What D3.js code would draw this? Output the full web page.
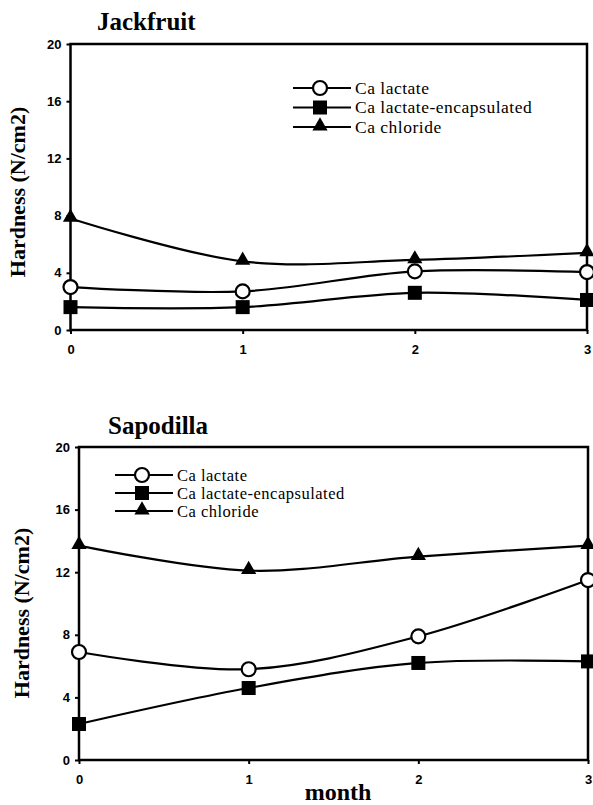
<!DOCTYPE html>
<html>
<head>
<meta charset="utf-8">
<script src="https://cdn.jsdelivr.net/npm/d3@7"></script>
<style>
  body { margin: 0; background: #fff; }
  svg { display: block; }
  .serif { font-family: "Liberation Serif", "Times New Roman", Times, "DejaVu Serif", serif; }
  .sans { font-family: "Liberation Sans", Arial, "DejaVu Sans", sans-serif; }
</style>
</head>
<body>
<svg id="chart" width="593" height="805"></svg>
<script>
const months = [0, 1, 2, 3];
const seriesNames = ["Ca lactate", "Ca lactate-encapsulated", "Ca chloride"];
const markers = ["circle", "square", "triangle"];
const yTicks = [0, 4, 8, 12, 16, 20];

// Jackfruit
const jackLactate = [3.0, 2.7, 4.1, 4.05];
const jackEncap = [1.6, 1.6, 2.6, 2.1];
const jackChloride = [7.8, 4.8, 4.9, 5.4];

// Sapodilla
const sapoLactate = [6.9, 5.8, 7.9, 11.5];
const sapoEncap = [2.3, 4.6, 6.2, 6.3];
const sapoChloride = [13.7, 12.1, 13.0, 13.7];

const svg = d3.select("#chart");

const drawMarker = (g, type, x, y) => {
    if (type === "circle") {
        g.append("circle").attr("cx", x).attr("cy", y).attr("r", 7)
            .attr("fill", "#fff").attr("stroke", "#000").attr("stroke-width", 2.2);
    } else if (type === "square") {
        g.append("rect").attr("x", x - 7).attr("y", y - 7).attr("width", 14).attr("height", 14)
            .attr("fill", "#000");
    } else {
        g.append("path").attr("d", d3.symbol(d3.symbolTriangle, 100)())
            .attr("transform", "translate(" + x + "," + (y - 1) + ")")
            .attr("fill", "#000");
    }
};

/*
    panel: draws one small chart with title, axes, three series and a legend
*/
const panel = (opt) => {
    const x = d3.scaleLinear().domain([0, 3]).range([opt.left, opt.right]);
    const y = d3.scaleLinear().domain([0, 20]).range([opt.bottom, opt.top]);
    const g = svg.append("g");

    g.append("text")
        .attr("class", "serif")
        .attr("x", opt.titleX).attr("y", opt.titleY)
        .style("font-weight", "bold").style("font-size", "25px")
        .text(opt.title);

    // frame
    g.append("rect")
        .attr("x", opt.left).attr("y", opt.top)
        .attr("width", opt.right - opt.left).attr("height", opt.bottom - opt.top)
        .attr("fill", "none").attr("stroke", "#000").attr("stroke-width", 2.5);

    const yAxis = g.append("g")
        .attr("transform", "translate(" + opt.left + ",0)")
        .call(d3.axisLeft(y).tickValues(yTicks).tickFormat(d3.format("d")).tickSize(4).tickPadding(5));
    const xAxis = g.append("g")
        .attr("transform", "translate(0," + opt.bottom + ")")
        .call(d3.axisBottom(x).tickValues(months).tickFormat(d3.format("d")).tickSize(4).tickPadding(11));
    [yAxis, xAxis].forEach(a => {
        a.select(".domain").remove();
        a.attr("font-family", null).attr("font-size", null);
        a.selectAll("line").attr("stroke-width", 2);
        a.selectAll("text").attr("class", "sans")
            .style("font-weight", "bold").style("font-size", "13px").attr("fill", "#000");
    });

    g.append("text")
        .attr("class", "serif")
        .attr("transform", "translate(" + opt.ylabelX + "," + opt.ylabelY + ") rotate(-90)")
        .attr("text-anchor", "middle")
        .style("font-weight", "bold").style("font-size", "22px")
        .text("Hardness (N/cm2)");

    const line = d3.line()
        .x((d, i) => x(months[i]))
        .y(d => y(d))
        .curve(d3.curveCatmullRom.alpha(0.5));

    opt.series.forEach((s, k) => {
        g.append("path").attr("d", line(s))
            .attr("fill", "none").attr("stroke", "#000").attr("stroke-width", 2.2);
        s.forEach((v, i) => drawMarker(g, markers[k], x(months[i]), y(v)));
    });

    // legend
    seriesNames.forEach((name, k) => {
        const ly = opt.legendY + k * opt.legendGap;
        g.append("line")
            .attr("x1", opt.legendX).attr("x2", opt.legendX + 58)
            .attr("y1", ly).attr("y2", ly)
            .attr("stroke", "#000").attr("stroke-width", 2);
        drawMarker(g, markers[k], opt.legendX + 27, ly);
        g.append("text")
            .attr("class", "serif")
            .attr("x", opt.legendX + 62).attr("y", ly + 5.5)
            .style("font-size", opt.legendFont + "px")
            .style("letter-spacing", "0.5px")
            .text(name);
    });
};

panel({
    title: "Jackfruit", titleX: 97, titleY: 30,
    left: 70.5, right: 587, top: 44, bottom: 330,
    ylabelX: 25, ylabelY: 192,
    legendX: 293, legendY: 88, legendGap: 19.5, legendFont: 17.5,
    series: [jackLactate, jackEncap, jackChloride]
});

panel({
    title: "Sapodilla", titleX: 108, titleY: 434,
    left: 79, right: 588, top: 447, bottom: 760,
    ylabelX: 29, ylabelY: 613,
    legendX: 115, legendY: 475, legendGap: 18, legendFont: 16.5,
    series: [sapoLactate, sapoEncap, sapoChloride]
});

svg.append("text")
    .attr("class", "serif")
    .attr("x", 338).attr("y", 800)
    .attr("text-anchor", "middle")
    .style("font-weight", "bold").style("font-size", "24px")
    .text("month");
</script>
</body>
</html>
